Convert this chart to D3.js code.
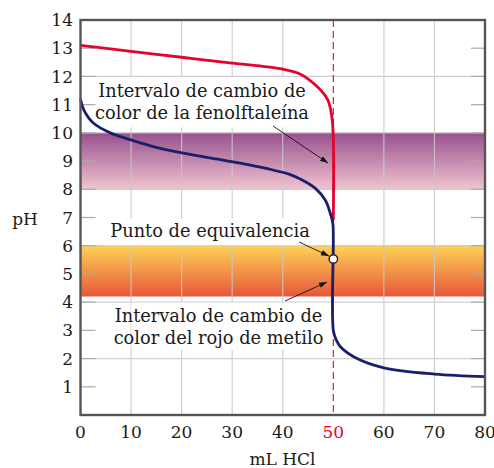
<!DOCTYPE html>
<html>
<head>
<meta charset="utf-8">
<script src="https://cdn.jsdelivr.net/npm/d3@7"></script>
<style>
	body { margin: 0; background: #fff; }
	text { font-family: "DejaVu Serif", serif; fill: #1a1a1a; }
</style>
</head>
<body>
<svg id="chart" width="494" height="468"></svg>
<script>
var xTicks = [0, 10, 20, 30, 40, 50, 60, 70, 80];
var yTicks = [1, 2, 3, 4, 5, 6, 7, 8, 9, 10, 11, 12, 13, 14];
var gridY = [2, 4, 6, 8, 10, 12];
var equivVolume = 50;
var bandFenol = [8, 10];
var bandRojo = [4.2, 6];
// NaOH + HCl (red) and NH3 + HCl (navy)
var strongBase = [[0, 13.1], [10, 12.89], [20, 12.68], [30, 12.47], [36, 12.36], [40, 12.26], [43.5, 12.08],
	[46.8, 11.64], [48.9, 11.17], [49.7, 10.58], [50, 9.8], [50, 6.9]];
var weakBase = [[0, 11.2], [0.7, 10.8], [2.6, 10.34], [5.9, 10.0], [10, 9.75], [16.4, 9.42], [25, 9.13],
	[31.6, 8.93], [37, 8.73], [41.5, 8.52], [43.5, 8.36], [46.4, 8.04], [48.4, 7.62], [49.4, 7.15],
	[49.9, 6.8], [50, 6.2], [50, 3.0], [50.6, 2.65], [51.4, 2.42], [54.7, 2.0], [60, 1.67], [70, 1.45], [80, 1.36]];
var equivPoint = [50, 5.53];

var svg = d3.select('#chart');
var mLeft = 80.5, mRight = 485, mTop = 20, mBottom = 415;
var x = d3.scaleLinear().domain([0, 80]).range([mLeft, mRight]);
var y = d3.scaleLinear().domain([0, 14]).range([mBottom, mTop]);

var defs = svg.append('defs');
function grad(id, c1, c2) {
	var g = defs.append('linearGradient').attr('id', id)
		.attr('x1', 0).attr('y1', 0).attr('x2', 0).attr('y2', 1);
	g.append('stop').attr('offset', '0%').attr('stop-color', c1);
	g.append('stop').attr('offset', '100%').attr('stop-color', c2);
}
grad('gFenol', '#98508e', '#f0c4d0');
grad('gRojo', '#fdd257', '#e7573b');
defs.append('marker').attr('id', 'arrow')
	.attr('viewBox', '0 0 10 10').attr('refX', 10).attr('refY', 5)
	.attr('markerWidth', 8).attr('markerHeight', 8).attr('markerUnits', 'userSpaceOnUse')
	.attr('orient', 'auto')
	.append('path').attr('d', 'M0,1.5L10,5L0,8.5z').attr('fill', '#111');

// bands
[[bandFenol, 'url(#gFenol)'], [bandRojo, 'url(#gRojo)']].forEach(function(b) {
	svg.append('rect')
		.attr('x', x(0)).attr('width', x(80) - x(0))
		.attr('y', y(b[0][1])).attr('height', y(b[0][0]) - y(b[0][1]))
		.attr('fill', b[1]);
});

// grid
var grid = svg.append('g').attr('stroke', '#c9c9c9').attr('stroke-width', 1.2).attr('opacity', 0.85);
grid.selectAll('.vx').data(xTicks.filter(function(d) { return d > 0 && d < 80 && d != equivVolume; }))
	.enter().append('line')
	.attr('x1', function(d) { return x(d); }).attr('x2', function(d) { return x(d); })
	.attr('y1', y(14)).attr('y2', y(0));
grid.selectAll('.hy').data(gridY).enter().append('line')
	.attr('x1', x(0)).attr('x2', x(80))
	.attr('y1', function(d) { return y(d); }).attr('y2', function(d) { return y(d); });
var ticks = svg.append('g').attr('stroke', '#aaa').attr('stroke-width', 1.2);
ticks.selectAll('.tl').data(yTicks.slice(0, -1)).enter().append('line')
	.attr('x1', x(0)).attr('x2', x(0) + 15)
	.attr('y1', function(d) { return y(d); }).attr('y2', function(d) { return y(d); });
ticks.selectAll('.tr').data(yTicks.slice(0, -1)).enter().append('line')
	.attr('x1', x(80) - 14).attr('x2', x(80))
	.attr('y1', function(d) { return y(d); }).attr('y2', function(d) { return y(d); });

// white label backgrounds
var boxes = [[3.2, 47.4, 11.98, 10.2], [4.9, 46.3, 6.96, 6.02], [10.05, 48.5, 3.98, 2.32]];
svg.selectAll('.box').data(boxes).enter().append('rect')
	.attr('x', function(d) { return x(d[0]); })
	.attr('width', function(d) { return x(d[1]) - x(d[0]); })
	.attr('y', function(d) { return y(d[2]); })
	.attr('height', function(d) { return y(d[3]) - y(d[2]); })
	.attr('fill', '#fff');

// equivalence line
svg.append('line')
	.attr('x1', x(equivVolume)).attr('x2', x(equivVolume))
	.attr('y1', y(14)).attr('y2', y(0))
	.attr('stroke', '#c8102e').attr('stroke-width', 1.1)
	.attr('stroke-dasharray', '7,4');

var line = d3.line()
	.x(function(d) { return x(d[0]); })
	.y(function(d) { return y(d[1]); })
	.curve(d3.curveCatmullRom.alpha(0.5));

svg.append('path').datum(strongBase).attr('d', line)
	.attr('fill', 'none').attr('stroke', '#e4032c').attr('stroke-width', 2.8);
svg.append('path').datum(weakBase).attr('d', line)
	.attr('fill', 'none').attr('stroke', '#1b1f6b').attr('stroke-width', 2.8);

svg.append('circle')
	.attr('cx', x(equivPoint[0])).attr('cy', y(equivPoint[1])).attr('r', 4.2)
	.attr('fill', '#fff').attr('stroke', '#111').attr('stroke-width', 1.3);

// annotations
var notes = [
	{lines: ['Intervalo de cambio de', 'color de la fenolftaleína'], cx: 202, y0: 97, arrow: [273, 126, 328, 163]},
	{lines: ['Punto de equivalencia'], cx: 210, y0: 237, arrow: [299, 242, 329, 256]},
	{lines: ['Intervalo de cambio de', 'color del rojo de metilo'], cx: 218.5, y0: 321.7, arrow: [285, 301, 327, 282]}
];
notes.forEach(function(n) {
	n.lines.forEach(function(t, i) {
		svg.append('text').attr('x', n.cx).attr('y', n.y0 + i * 21.8)
			.attr('text-anchor', 'middle').style('font-size', '17.8px').text(t);
	});
	svg.append('line')
		.attr('x1', n.arrow[0]).attr('y1', n.arrow[1])
		.attr('x2', n.arrow[2]).attr('y2', n.arrow[3])
		.attr('stroke', '#111').attr('stroke-width', 0.9)
		.attr('marker-end', 'url(#arrow)');
});

// frame
svg.append('rect')
	.attr('x', x(0)).attr('y', y(14))
	.attr('width', x(80) - x(0)).attr('height', y(0) - y(14))
	.attr('fill', 'none').attr('stroke', '#555').attr('stroke-width', 2.4);

svg.selectAll('.ylab').data(yTicks).enter().append('text')
	.attr('x', 73).attr('y', function(d) { return y(d); })
	.attr('dy', '0.36em').attr('text-anchor', 'end')
	.style('font-size', '17px')
	.text(function(d) { return d; });
svg.selectAll('.xlab').data(xTicks).enter().append('text')
	.attr('x', function(d) { return x(d); }).attr('y', 438)
	.attr('text-anchor', 'middle')
	.style('font-size', '17px')
	.style('fill', function(d) { return d == equivVolume ? '#e4032c' : '#1a1a1a'; })
	.text(function(d) { return d; });

svg.append('text').attr('x', 282.5).attr('y', 465).attr('text-anchor', 'middle')
	.style('font-size', '17px').text('mL HCl');
svg.append('text').attr('x', 25).attr('y', 225).attr('text-anchor', 'middle')
	.style('font-size', '17px').text('pH');
</script>
</body>
</html>
